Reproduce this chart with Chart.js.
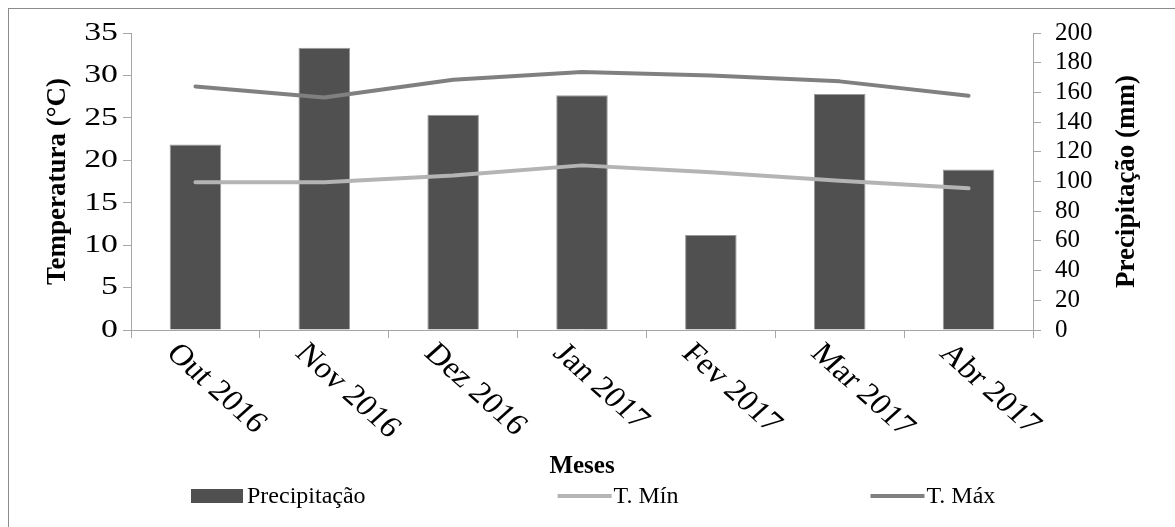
<!DOCTYPE html>
<html>
<head>
<meta charset="utf-8">
<script src="https://cdn.jsdelivr.net/npm/chart.js@4/dist/chart.umd.min.js"></script>
<style>
  html, body { margin: 0; padding: 0; background: #ffffff; }
  #wrap { width: 1175px; height: 527px; }
</style>
</head>
<body>
<div id="wrap"><canvas id="chart" width="1175" height="527"></canvas></div>
<script>
// Monthly climate data, Oct 2016 – Apr 2017
const months = ['Out 2016', 'Nov 2016', 'Dez 2016', 'Jan 2017', 'Fev 2017', 'Mar 2017', 'Abr 2017'];
const precipitacao = [125, 190, 145, 158, 64, 159, 108];          // mm
const tMin = [17.4, 17.4, 18.2, 19.4, 18.6, 17.6, 16.7];          // °C
const tMax = [28.7, 27.4, 29.5, 30.4, 30.0, 29.3, 27.6];          // °C
const tempTicks = { min: 0, max: 35, step: 5 };
const precTicks = { min: 0, max: 200, step: 20 };

const SERIF = '"Liberation Serif", "DejaVu Serif", serif';
const AXIS_GREY = '#a6a6a6';
const BAR_COLOR = '#505050';
const TMIN_COLOR = '#b4b4b4';
const TMAX_COLOR = '#808080';

Chart.defaults.font.family = SERIF;
Chart.defaults.color = '#000000';

// Frame, widened temperature tick labels, slanted month labels,
// right axis title and legend
const decorations = {
  id: 'decorations',
  beforeDraw(chart) {
    const ctx = chart.ctx;
    ctx.save();
    ctx.fillStyle = '#ffffff';
    ctx.fillRect(0, 0, chart.width, chart.height);
    ctx.strokeStyle = '#8c8c8c';
    ctx.lineWidth = 1;
    ctx.strokeRect(8.5, 8.5, chart.width + 20, chart.height + 20);
    ctx.restore();
  },
  afterDraw(chart) {
    const ctx = chart.ctx;
    const xs = chart.scales.x;
    const ys = chart.scales.y;
    const area = chart.chartArea;

    // temperature tick labels (wide face)
    ctx.save();
    ctx.font = '26px ' + SERIF;
    ctx.fillStyle = '#000';
    ctx.textAlign = 'right';
    ctx.textBaseline = 'middle';
    ys.ticks.forEach((t) => {
      const y = ys.getPixelForValue(t.value);
      ctx.save();
      ctx.translate(ys.right - 13, y);
      ctx.scale(1.3, 1);
      ctx.fillText(String(t.value), 0, 0);
      ctx.restore();
    });
    ctx.restore();

    // month labels, slanted downward
    ctx.save();
    ctx.font = '30px ' + SERIF;
    ctx.fillStyle = '#000';
    ctx.textAlign = 'left';
    ctx.textBaseline = 'middle';
    months.forEach((m, i) => {
      const x = xs.getPixelForValue(i);
      ctx.save();
      ctx.translate(x - 24, xs.top + 19);
      ctx.scale(1.12, 1);
      ctx.rotate(Math.PI / 4);
      ctx.fillText(m, 0, 0);
      ctx.restore();
    });
    ctx.restore();

    // right axis title, reading upward
    ctx.save();
    ctx.font = 'bold 27px ' + SERIF;
    ctx.fillStyle = '#000';
    ctx.textAlign = 'center';
    ctx.textBaseline = 'middle';
    ctx.translate(1127, (area.top + area.bottom) / 2);
    ctx.rotate(-Math.PI / 2);
    ctx.fillText('Precipitação (mm)', 0, 0);
    ctx.restore();

    // legend row
    ctx.save();
    ctx.font = '24px ' + SERIF;
    ctx.fillStyle = '#000';
    ctx.textBaseline = 'middle';
    const ds = chart.data.datasets;
    let x = 191;
    const yMid = 496;
    const gap = 192;
    ds.forEach((d) => {
      if (d.type === 'bar') {
        ctx.fillStyle = d.backgroundColor;
        ctx.fillRect(x, yMid - 7, 52, 14);
      } else {
        ctx.strokeStyle = d.borderColor;
        ctx.lineWidth = 4;
        ctx.beginPath();
        ctx.moveTo(x, yMid);
        ctx.lineTo(x + 54, yMid);
        ctx.stroke();
      }
      ctx.fillStyle = '#000';
      const tx = x + 56;
      ctx.fillText(d.label, tx, yMid + 1);
      x = tx + ctx.measureText(d.label).width + gap;
    });
    ctx.restore();
  }
};

new Chart(document.getElementById('chart'), {
  type: 'bar',
  data: {
    labels: months,
    datasets: [
      {
        type: 'bar',
        label: 'Precipitação',
        data: precipitacao,
        yAxisID: 'y1',
        backgroundColor: BAR_COLOR,
        borderColor: '#9a9a9a',
        borderWidth: 1,
        categoryPercentage: 1,
        barPercentage: 0.4,
        order: 2
      },
      {
        type: 'line',
        label: 'T. Mín',
        data: tMin,
        yAxisID: 'y',
        borderColor: TMIN_COLOR,
        backgroundColor: TMIN_COLOR,
        borderWidth: 4,
        pointRadius: 0,
        tension: 0,
        borderCapStyle: 'round',
        borderJoinStyle: 'round',
        order: 1
      },
      {
        type: 'line',
        label: 'T. Máx',
        data: tMax,
        yAxisID: 'y',
        borderColor: TMAX_COLOR,
        backgroundColor: TMAX_COLOR,
        borderWidth: 4,
        pointRadius: 0,
        tension: 0,
        borderCapStyle: 'round',
        borderJoinStyle: 'round',
        order: 0
      }
    ]
  },
  options: {
    responsive: false,
    animation: false,
    layout: { padding: { left: 0, right: 0, top: 33, bottom: 45 } },
    plugins: {
      legend: { display: false },
      tooltip: { enabled: false }
    },
    scales: {
      x: {
        offset: true,
        grid: {
          offset: true,
          drawOnChartArea: false,
          drawTicks: true,
          tickLength: 8,
          color: AXIS_GREY
        },
        border: { display: true, color: AXIS_GREY, width: 1 },
        ticks: { display: false },
        title: {
          display: true,
          text: 'Meses',
          font: { size: 25, weight: 'bold', family: SERIF },
          color: '#000',
          padding: { top: 0, bottom: 0 }
        },
        afterFit(scale) { scale.height = 152; }
      },
      y: {
        position: 'left',
        min: tempTicks.min,
        max: tempTicks.max,
        grid: {
          drawOnChartArea: false,
          drawTicks: true,
          tickLength: 8,
          color: AXIS_GREY
        },
        border: { display: true, color: AXIS_GREY, width: 1 },
        ticks: {
          stepSize: tempTicks.step,
          autoSkip: false,
          display: false
        },
        title: {
          display: true,
          text: 'Temperatura (°C)',
          font: { size: 27, weight: 'bold', family: SERIF },
          color: '#000',
          padding: { top: 42, bottom: 0 }
        },
        afterFit(scale) { scale.width = 131; }
      },
      y1: {
        position: 'right',
        min: precTicks.min,
        max: precTicks.max,
        grid: {
          drawOnChartArea: false,
          drawTicks: true,
          tickLength: 8,
          color: AXIS_GREY
        },
        border: { display: true, color: AXIS_GREY, width: 1 },
        ticks: {
          stepSize: precTicks.step,
          autoSkip: false,
          padding: 14,
          font: { size: 25, family: SERIF },
          color: '#000'
        },
        afterFit(scale) { scale.width = 142; }
      }
    }
  },
  plugins: [decorations]
});
</script>
</body>
</html>
